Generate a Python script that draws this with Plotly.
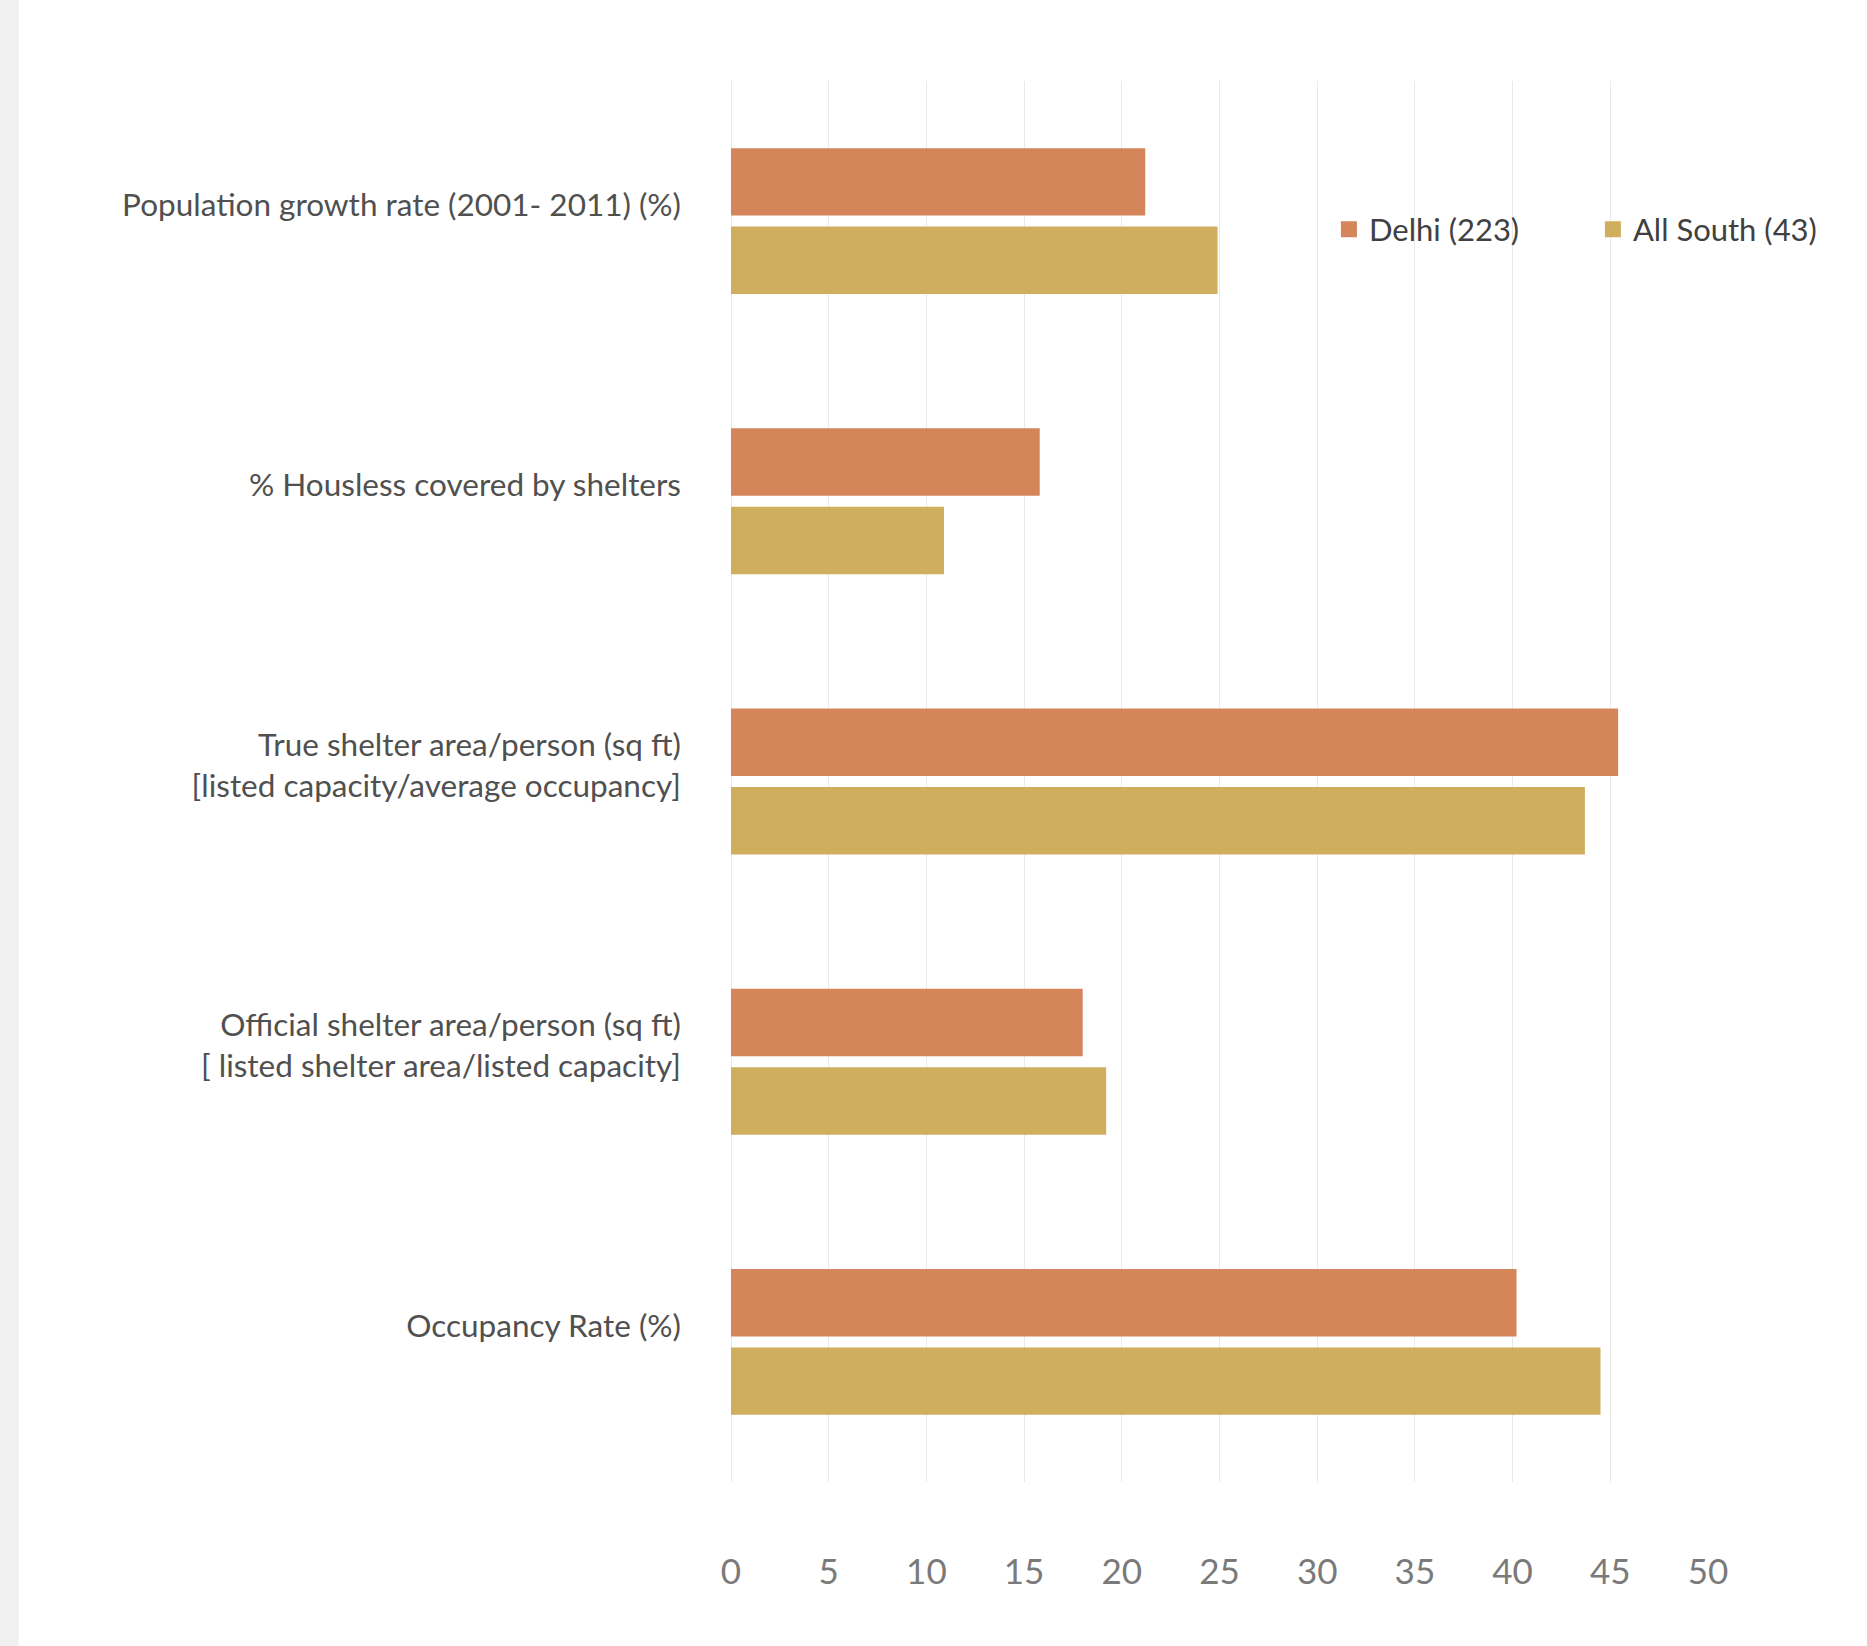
import plotly.graph_objects as go

categories = [
    "Population growth rate (2001- 2011) (%)",
    "% Housless covered by shelters",
    "True shelter area/person (sq ft)<br>[listed capacity/average occupancy]",
    "Official shelter area/person (sq ft)<br>[ listed shelter area/listed capacity]",
    "Occupancy Rate (%)",
]
delhi = [21.2, 15.8, 45.4, 18.0, 40.2]
all_south = [24.9, 10.9, 43.7, 19.2, 44.5]
x_ticks = [0, 5, 10, 15, 20, 25, 30, 35, 40, 45, 50]
series_names = ["Delhi (223)", "All South (43)"]
series_colors = ["#d4855a", "#cfae5e"]

FONT = "Lato, Roboto, sans-serif"

fig = go.Figure()
for name, vals, col in zip(series_names, [delhi, all_south], series_colors):
    fig.add_trace(go.Bar(y=categories, x=vals, orientation="h", name=name,
                         legendgroup=name, showlegend=False,
                         marker=dict(color=col, line=dict(width=0))))
for name, col in zip(series_names, series_colors):
    fig.add_trace(go.Scatter(x=[None], y=[None], mode="markers", name=name,
                             legendgroup=name, showlegend=True,
                             marker=dict(symbol="square", size=16, color=col)))

fig.update_layout(
    width=1867, height=1646,
    margin=dict(l=731, r=159, t=81, b=164, autoexpand=False),
    paper_bgcolor="white", plot_bgcolor="white",
    barmode="group", bargap=0.44, bargroupgap=0.14,
    font=dict(family=FONT, color="#505050", size=31.5),
    legend=dict(orientation="h", x=0.612, y=0.894, xanchor="left", yanchor="middle",
                font=dict(size=31, color="#404040"), entrywidth=219, bgcolor="rgba(0,0,0,0)",
                traceorder="normal", itemsizing="trace"),
    shapes=[dict(type="rect", xref="paper", yref="paper", x0=-0.7486, x1=-0.7291,
                 y0=-0.2, y1=1.1, fillcolor="#f0f0f0", line=dict(width=0), layer="below")],
)
fig.update_xaxes(range=[0, 50], tickvals=x_ticks, showgrid=True, gridcolor="#e9e9e9",
                 gridwidth=1, zeroline=True, zerolinecolor="#e9e9e9", zerolinewidth=1,
                 showline=False, ticks="", ticklabelstandoff=66,
                 tickfont=dict(size=35, color="#7a7a7a"))
fig.update_yaxes(autorange="reversed", showgrid=False, showline=False, ticks="",
                 ticklabelstandoff=49, ticklabelshift=16,
                 tickfont=dict(size=31.5, color="#505050"))

fig.write_html("out.html", config={"displayModeBar": False},
               post_script="document.body.style.margin='0px';")
